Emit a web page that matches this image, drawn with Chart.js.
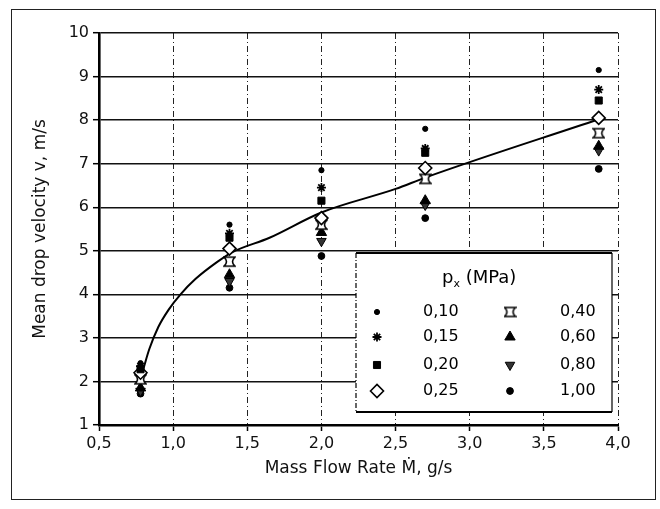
<!DOCTYPE html>
<html>
<head>
<meta charset="utf-8">
<title>Mean drop velocity vs mass flow rate</title>
<script src="https://cdn.jsdelivr.net/npm/chart.js@4.4.1/dist/chart.umd.min.js"></script>
<style>
  html, body { margin: 0; padding: 0; background: #fff; }
  #wrap { position: relative; width: 660px; height: 509px; }
</style>
</head>
<body>
<div id="wrap"><canvas id="myChart" width="660" height="509"></canvas></div>
<script>
// Measured flow rates (g/s) and mean drop velocities (m/s) per pressure p_x
const flowRates = [0.78, 1.38, 2.0, 2.7, 3.87];
const pressureLabels = ['0,10', '0,15', '0,20', '0,25', '0,40', '0,60', '0,80', '1,00'];

const v010 = [2.42, 5.60, 6.85, 7.80, 9.15];
const v015 = [2.35, 5.40, 6.45, 7.35, 8.70];
const v020 = [2.28, 5.30, 6.15, 7.25, 8.45];
const v025 = [2.20, 5.05, 5.75, 6.90, 8.05];
const v040 = [2.05, 4.75, 5.60, 6.65, 7.70];
const v060 = [1.85, 4.45, 5.42, 6.15, 7.40];
const v080 = [1.78, 4.30, 5.22, 6.05, 7.30];
const v100 = [1.72, 4.15, 4.88, 5.75, 6.88];

// Fitted curve through the data
const fitX = [0.80, 0.84, 0.90, 0.97, 1.05, 1.15, 1.30, 1.40, 1.65, 2.00, 2.50, 2.70, 3.87];
const fitY = [2.30, 2.75, 3.25, 3.65, 4.00, 4.35, 4.75, 4.97, 5.30, 5.88, 6.42, 6.68, 8.02];

const xTicks = ['0,5', '1,0', '1,5', '2,0', '2,5', '3,0', '3,5', '4,0'];
const yTicks = ['1', '2', '3', '4', '5', '6', '7', '8', '9', '10'];

const FONT = 'DejaVu Sans';

// open spool-shaped marker used for 0,40 MPa
function spoolMarker() {
    const c = document.createElement('canvas');
    c.width = 13; c.height = 13;
    const g = c.getContext('2d');
    g.lineWidth = 1.6;
    g.strokeStyle = '#000';
    g.fillStyle = '#fff';
    g.beginPath();
    g.moveTo(1, 2); g.lineTo(12, 2);
    g.quadraticCurveTo(7, 6.5, 12, 11);
    g.lineTo(1, 11);
    g.quadraticCurveTo(6, 6.5, 1, 2);
    g.closePath();
    g.fill();
    g.stroke();
    return c;
}

const markers = [
    { data: v010, pointStyle: 'circle', radius: 2.6, fill: '#000' },
    { data: v015, pointStyle: 'star', radius: 4.5, fill: '#000', width: 1.8 },
    { data: v020, pointStyle: 'rect', radius: 5, fill: '#000' },
    { data: v025, pointStyle: 'rectRot', radius: 6.5, fill: '#fff', width: 1.6 },
    { data: v040, pointStyle: spoolMarker(), radius: 6, fill: '#fff' },
    { data: v060, pointStyle: 'triangle', radius: 6, fill: '#000' },
    { data: v080, pointStyle: 'triangle', radius: 5.5, fill: '#333', rotation: 180 },
    { data: v100, pointStyle: 'circle', radius: 3.4, fill: '#000' }
];

const datasets = markers.map((m, i) => ({
    type: 'scatter',
    label: pressureLabels[i],
    data: flowRates.map((x, j) => ({ x: x, y: m.data[j] })),
    pointStyle: m.pointStyle,
    pointRadius: m.radius,
    pointRotation: m.rotation || 0,
    pointBackgroundColor: m.fill,
    pointBorderColor: '#000',
    pointBorderWidth: m.width || 1,
    order: 1
}));

datasets.push({
    type: 'line',
    label: 'fit',
    data: fitX.map((x, j) => ({ x: x, y: fitY[j] })),
    borderColor: '#000',
    borderWidth: 2,
    pointRadius: 0,
    tension: 0.35,
    cubicInterpolationMode: 'monotone',
    order: 10
});

// white page with a thin outer frame
const framePlugin = {
    id: 'frame',
    beforeDraw(chart) {
        const ctx = chart.ctx;
        ctx.save();
        ctx.fillStyle = '#fff';
        ctx.fillRect(0, 0, chart.width, chart.height);
        ctx.strokeStyle = '#222';
        ctx.lineWidth = 1;
        ctx.strokeRect(11.5, 9.5, 644, 490);
        ctx.restore();
    }
};

// pressure key drawn as a boxed two-column table inside the plot
const keyPlugin = {
    id: 'pressureKey',
    afterDatasetsDraw(chart) {
        const ctx = chart.ctx;
        const box = { l: 356, t: 253, r: 612, b: 412 };
        ctx.save();
        ctx.fillStyle = '#fff';
        ctx.fillRect(box.l, box.t, box.r - box.l, box.b - box.t);
        ctx.strokeStyle = '#000';
        ctx.lineWidth = 2;
        ctx.beginPath();
        ctx.moveTo(box.l, box.t); ctx.lineTo(box.r, box.t);
        ctx.moveTo(box.l, box.b); ctx.lineTo(box.r, box.b);
        ctx.stroke();
        ctx.lineWidth = 1.2;
        ctx.beginPath();
        ctx.moveTo(box.r, box.t); ctx.lineTo(box.r, box.b);
        ctx.stroke();
        ctx.setLineDash([5, 2, 1, 2]);
        ctx.beginPath();
        ctx.moveTo(box.l, box.t); ctx.lineTo(box.l, box.b);
        ctx.stroke();
        ctx.setLineDash([]);

        // title p_x (MPa)
        ctx.fillStyle = '#000';
        ctx.textBaseline = 'alphabetic';
        ctx.font = '18px ' + FONT;
        const tx = 442, ty = 283;
        ctx.textAlign = 'left';
        ctx.fillText('p', tx, ty);
        const pw = ctx.measureText('p').width;
        ctx.font = '11px ' + FONT;
        ctx.fillText('x', tx + pw, ty + 4);
        const xw = ctx.measureText('x').width;
        ctx.font = '18px ' + FONT;
        ctx.fillText(' (MPa)', tx + pw + xw, ty);

        const rows = [312, 337, 365, 391];
        ctx.font = '16px ' + FONT;
        ctx.textBaseline = 'middle';
        chart.data.datasets.forEach((ds, i) => {
            if (ds.type !== 'scatter') return;
            const col = i < 4 ? 0 : 1;
            const y = rows[i % 4];
            const mx = col === 0 ? 377 : 510;
            const lx = col === 0 ? 423 : 560;
            ctx.fillStyle = ds.pointBackgroundColor;
            ctx.strokeStyle = '#000';
            ctx.lineWidth = ds.pointBorderWidth;
            Chart.helpers.drawPoint(ctx, {
                pointStyle: ds.pointStyle,
                radius: ds.pointRadius,
                rotation: ds.pointRotation,
                borderWidth: ds.pointBorderWidth
            }, mx, y);
            ctx.fillStyle = '#000';
            ctx.fillText(ds.label, lx, y);
        });
        ctx.restore();
    }
};

const ctx = document.getElementById('myChart').getContext('2d');
new Chart(ctx, {
    type: 'scatter',
    data: { datasets: datasets },
    plugins: [framePlugin, keyPlugin],
    options: {
        responsive: false,
        animation: false,
        layout: { padding: { left: 0, right: 42, top: 33, bottom: 0 } },
        plugins: {
            legend: { display: false },
            tooltip: { enabled: false }
        },
        scales: {
            x: {
                type: 'linear',
                min: 0.5,
                max: 4.0,
                afterFit: s => { s.height = 84; },
                afterBuildTicks: s => {
                    s.ticks = xTicks.map(t => ({ value: parseFloat(t.replace(',', '.')) }));
                },
                ticks: {
                    callback: (v, i) => xTicks[i],
                    color: '#111',
                    font: { family: FONT, size: 16 },
                    padding: 3,
                    maxRotation: 0
                },
                grid: {
                    color: '#222',
                    lineWidth: 1,
                    tickLength: 6,
                    tickColor: '#000',
                    tickWidth: 1.5,
                    tickBorderDash: []
                },
                border: { color: '#000', width: 2.6, dash: [6, 3, 1, 3] },
                title: {
                    display: true,
                    text: 'Mass Flow Rate Ṁ, g/s',
                    color: '#111',
                    font: { family: FONT, size: 17 },
                    padding: { top: 0, bottom: 30 }
                }
            },
            y: {
                type: 'linear',
                min: 1,
                max: 10,
                afterFit: s => { s.width = 99; },
                afterBuildTicks: s => {
                    s.ticks = yTicks.map(t => ({ value: parseFloat(t) }));
                },
                ticks: {
                    callback: (v, i) => yTicks[i],
                    color: '#111',
                    font: { family: FONT, size: 16 },
                    padding: 4
                },
                grid: {
                    color: '#111',
                    lineWidth: 1.4,
                    tickLength: 6,
                    tickColor: '#000',
                    tickWidth: 1.5
                },
                border: { color: '#000', width: 2.6 },
                title: {
                    display: true,
                    text: 'Mean drop velocity v, m/s',
                    color: '#111',
                    font: { family: FONT, size: 17 },
                    padding: { top: 30, bottom: 0 }
                }
            }
        }
    }
});
</script>
</body>
</html>
